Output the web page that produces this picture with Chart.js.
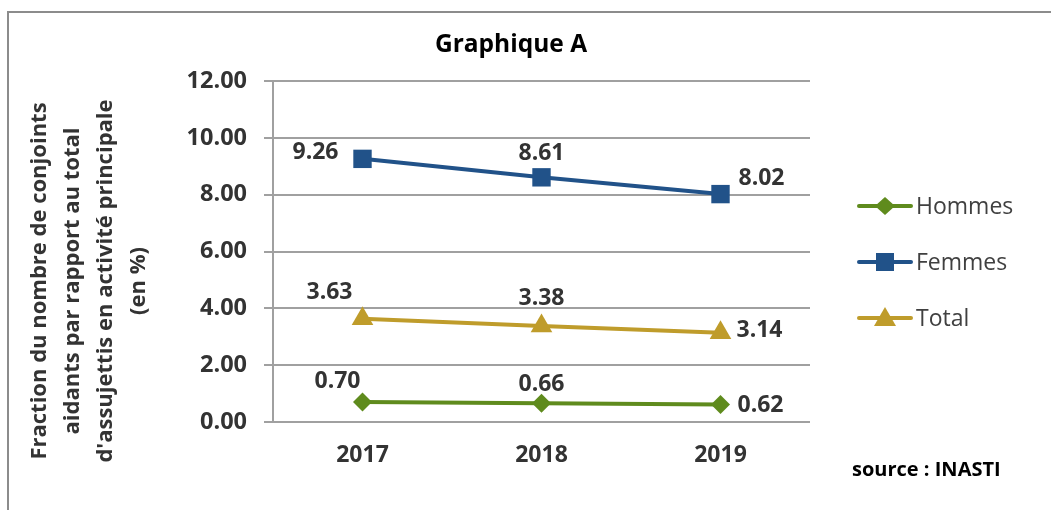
<!DOCTYPE html>
<html>
<head>
<meta charset="utf-8">
<script src="https://cdn.jsdelivr.net/npm/chart.js"></script>
<style>
  body { margin: 0; background: #fff; }
  canvas { display: block; }
</style>
</head>
<body>
<canvas id="chart" width="1051" height="510"></canvas>
<script>
// data
const years = ['2017', '2018', '2019'];
const hommes = [0.70, 0.66, 0.62];
const femmes = [9.26, 8.61, 8.02];
const total = [3.63, 3.38, 3.14];
const seriesNames = ['Hommes', 'Femmes', 'Total'];
const yMin = 0, yMax = 12, yStep = 2;
const chartTitle = 'Graphique A';
const yTitleLines = [
    'Fraction du nombre de conjoints',
    'aidants par rapport au total',
    "d'assujettis en activité principale",
    '(en %)'
];
const sourceText = 'source : INASTI';

const FONT = '"Open Sans", Lato, sans-serif';
const TEXT = '#333333';

// where each value label sits relative to its point (dx, dy)
const labelOffsets = {
    Hommes: [[-25, -21], [0, -19], [40, 1]],
    Femmes: [[-47, -6], [0, -24], [41, -16]],
    Total: [[-33, -26], [0, -27], [39, -2]]
};

function drawMarker(ctx, style, x, y, color) {
    ctx.save();
    ctx.fillStyle = color;
    ctx.beginPath();
    if (style === 'rect') {
        ctx.rect(x - 9, y - 9, 18, 18);
    } else if (style === 'rectRot') {
        ctx.moveTo(x - 10, y);
        ctx.lineTo(x, y - 9);
        ctx.lineTo(x + 10, y);
        ctx.lineTo(x, y + 9);
        ctx.closePath();
    } else {
        ctx.moveTo(x, y - 11);
        ctx.lineTo(x + 11, y + 8);
        ctx.lineTo(x - 11, y + 8);
        ctx.closePath();
    }
    ctx.fill();
    ctx.restore();
}

const decorPlugin = {
    id: 'decor',
    beforeDraw(chart) {
        const ctx = chart.ctx;
        ctx.save();
        ctx.fillStyle = '#fff';
        ctx.fillRect(0, 0, chart.width, chart.height);
        ctx.strokeStyle = '#8c8c8c';
        ctx.lineWidth = 2;
        ctx.strokeRect(8, 12, 1100, 600);
        ctx.restore();
    },
    afterDatasetsDraw(chart) {
        const ctx = chart.ctx;
        ctx.save();
        ctx.font = 'bold 23px ' + FONT;
        ctx.fillStyle = TEXT;
        ctx.textAlign = 'center';
        ctx.textBaseline = 'middle';
        chart.data.datasets.forEach((ds, i) => {
            const meta = chart.getDatasetMeta(i);
            meta.data.forEach((pt, j) => {
                const off = labelOffsets[ds.label][j];
                ctx.fillText(ds.data[j].toFixed(2), pt.x + off[0], pt.y + off[1]);
            });
        });
        ctx.restore();
    },
    afterDraw(chart) {
        const ctx = chart.ctx;
        ctx.save();
        // title
        ctx.fillStyle = '#000';
        ctx.font = 'bold 24.5px ' + FONT;
        ctx.textAlign = 'center';
        ctx.textBaseline = 'middle';
        ctx.fillText(chartTitle, 511, 45);

        // rotated y-axis title
        ctx.save();
        ctx.translate(89, 281);
        ctx.rotate(-Math.PI / 2);
        ctx.fillStyle = TEXT;
        ctx.font = 'bold 22px ' + FONT;
        yTitleLines.forEach((line, i) => {
            ctx.fillText(line, 0, (i - 1.5) * 33);
        });
        ctx.restore();

        // legend: line with marker through it
        chart.data.datasets.forEach((ds, i) => {
            const y = 206 + i * 56;
            ctx.strokeStyle = ds.borderColor;
            ctx.lineWidth = 4;
            ctx.lineCap = 'round';
            ctx.beginPath();
            ctx.moveTo(859, y);
            ctx.lineTo(911, y);
            ctx.stroke();
            drawMarker(ctx, ds.pointStyle, 885, y, ds.borderColor);
            ctx.fillStyle = '#404040';
            ctx.font = '23px ' + FONT;
            ctx.textAlign = 'left';
            ctx.fillText(ds.label, 916, y + 1);
        });

        // source note
        ctx.fillStyle = '#000';
        ctx.font = 'bold 20px ' + FONT;
        ctx.textAlign = 'left';
        ctx.fillText(sourceText, 852, 470);
        ctx.restore();
    }
};

const colors = { Hommes: '#5f8b1d', Femmes: '#215289', Total: '#bf9c2b' };
const styles = { Hommes: 'rectRot', Femmes: 'rect', Total: 'triangle' };
const radii = { Hommes: 9.5, Femmes: 13, Total: 12.5 };
const values = { Hommes: hommes, Femmes: femmes, Total: total };

const datasets = seriesNames.map(name => ({
    label: name,
    data: values[name],
    borderColor: colors[name],
    backgroundColor: colors[name],
    borderWidth: 4,
    pointStyle: styles[name],
    pointRadius: radii[name],
    pointBorderWidth: 0,
    pointBackgroundColor: colors[name],
    tension: 0
}));

new Chart(document.getElementById('chart').getContext('2d'), {
    type: 'line',
    data: { labels: years, datasets: datasets },
    plugins: [decorPlugin],
    options: {
        responsive: false,
        animation: false,
        layout: { padding: { left: 0, top: 81, right: 241, bottom: 0 } },
        plugins: {
            legend: { display: false },
            tooltip: { enabled: false },
            title: { display: false }
        },
        scales: {
            x: {
                offset: true,
                grid: { display: false, drawTicks: false },
                border: { display: false },
                ticks: {
                    color: TEXT,
                    padding: 20,
                    font: { family: FONT, size: 23, weight: 'bold' }
                },
                afterFit(scale) { scale.height = 88; }
            },
            y: {
                min: yMin,
                max: yMax,
                grid: { color: '#a0a0a0', lineWidth: 2, tickLength: 9, drawTicks: true },
                border: { display: true, color: '#a0a0a0', width: 2 },
                ticks: {
                    stepSize: yStep,
                    color: TEXT,
                    padding: 17,
                    font: { family: FONT, size: 23.5, weight: 'bold' },
                    callback: v => Number(v).toFixed(2)
                },
                afterFit(scale) { scale.width = 273; }
            }
        }
    }
});
</script>
</body>
</html>
